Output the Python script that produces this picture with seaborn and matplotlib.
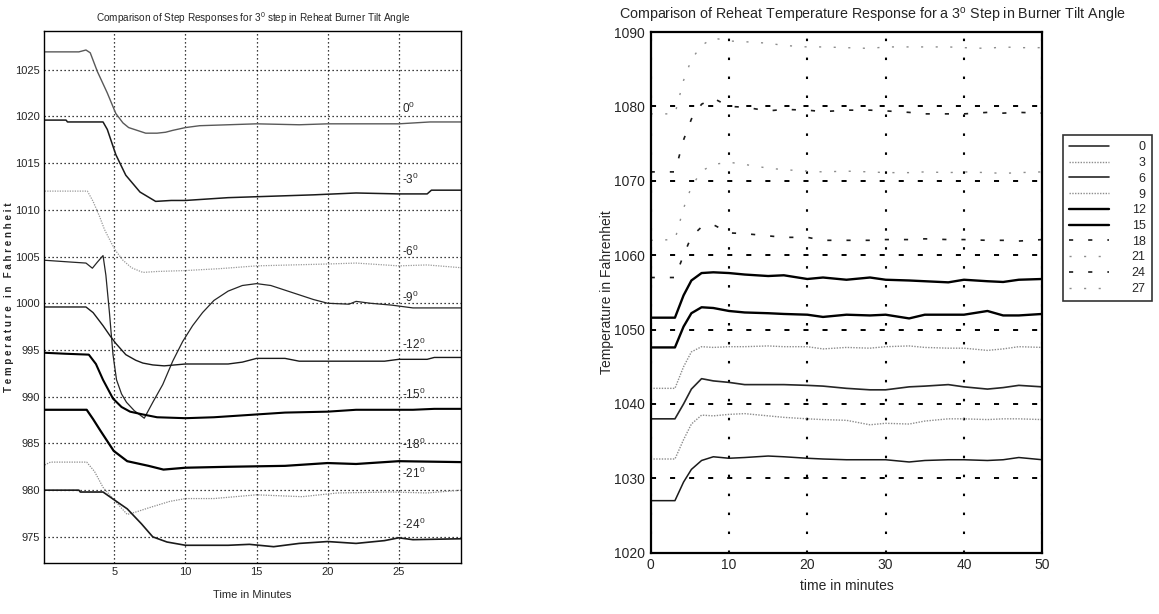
import matplotlib
matplotlib.use("Agg")
import seaborn as sns
from matplotlib import pyplot as plt

# ---------------- left panel: step responses, one curve per tilt angle
t_0 = [0.1, 2.5, 3.0, 3.3, 3.8, 4.5, 5.1, 5.6, 6.0, 6.6, 7.2, 8.0, 8.6, 9.1, 10.0, 11.0, 15.0, 18.0, 20.0, 25.0, 27.2, 29.4]
temp_0 = [1026.9, 1026.9, 1027.1, 1026.8, 1024.8, 1022.5, 1020.3, 1019.3, 1018.8, 1018.5, 1018.2, 1018.2, 1018.3, 1018.5, 1018.8, 1019.0, 1019.2, 1019.1, 1019.2, 1019.2, 1019.4, 1019.4]

t_m3 = [0.1, 1.6, 1.7, 4.2, 4.5, 5.1, 5.8, 6.8, 7.9, 9.0, 10.0, 13.0, 19.0, 22.0, 25.0, 27.0, 27.3, 29.4]
temp_m3 = [1019.6, 1019.6, 1019.4, 1019.4, 1018.6, 1015.9, 1013.7, 1011.9, 1010.9, 1011.0, 1011.0, 1011.3, 1011.6, 1011.8, 1011.7, 1011.7, 1012.1, 1012.1]

t_m6 = [0.1, 3.1, 3.5, 3.95, 4.3, 4.8, 5.1, 5.6, 6.2, 7.0, 8.0, 10.0, 12.4, 15.0, 20.0, 22.0, 25.0, 27.0, 29.4]
temp_m6 = [1012.0, 1012.0, 1010.9, 1009.3, 1007.9, 1006.4, 1005.6, 1004.6, 1003.8, 1003.3, 1003.4, 1003.5, 1003.7, 1004.0, 1004.2, 1004.3, 1004.0, 1004.1, 1003.8]

t_m9 = [0.1, 2.0, 3.0, 3.45, 3.8, 4.2, 4.4, 4.65, 4.9, 5.15, 5.5, 5.85, 6.4, 7.1, 7.7, 8.4, 9.1, 9.8, 10.5, 11.2,
        12.0, 13.0, 14.0, 15.0, 16.0, 17.0, 18.0, 19.0, 20.0, 21.5, 22.0, 23.0, 24.5, 26.0, 29.4]
temp_m9 = [1004.6, 1004.4, 1004.3, 1003.75, 1004.4, 1005.1, 1003.0, 999.0, 994.5, 991.8, 990.3, 989.4, 988.5, 987.7, 989.4, 991.3, 993.8, 995.9, 997.6, 999.0,
           1000.3, 1001.3, 1001.9, 1002.1, 1001.9, 1001.4, 1000.9, 1000.4, 1000.0, 999.9, 1000.2, 1000.0, 999.8, 999.5, 999.5]

t_m12 = [0.1, 3.0, 3.5, 4.2, 4.7, 5.1, 5.8, 6.5, 7.0, 7.7, 8.5, 10.0, 13.0, 14.0, 15.0, 17.0, 18.0, 24.0, 25.0, 27.0, 27.5, 29.4]
temp_m12 = [999.6, 999.6, 999.0, 997.6, 996.5, 995.7, 994.5, 993.9, 993.6, 993.4, 993.3, 993.5, 993.5, 993.7, 994.1, 994.1, 993.8, 993.8, 994.0, 994.0, 994.2, 994.2]

t_m15 = [0.1, 1.5, 3.2, 3.7, 4.2, 4.9, 5.5, 6.1, 7.0, 8.0, 10.0, 12.0, 14.0, 17.0, 20.0, 22.0, 26.0, 27.5, 29.4]
temp_m15 = [994.7, 994.6, 994.5, 993.5, 991.8, 989.8, 988.9, 988.4, 988.1, 987.8, 987.7, 987.8, 988.0, 988.3, 988.4, 988.6, 988.6, 988.7, 988.7]

t_m18 = [0.1, 3.05, 3.5, 4.0, 4.95, 5.9, 7.4, 8.45, 10.0, 13.0, 17.0, 20.0, 22.0, 25.0, 29.4]
temp_m18 = [988.6, 988.6, 987.6, 986.4, 984.2, 983.1, 982.6, 982.2, 982.4, 982.5, 982.6, 982.9, 982.8, 983.1, 983.0]

t_m21 = [0.1, 0.5, 3.05, 3.6, 4.2, 4.95, 5.9, 6.6, 7.4, 8.9, 10.0, 12.0, 15.0, 18.2, 20.7, 24.5, 27.0, 29.4]
temp_m21 = [982.7, 983.0, 983.0, 982.0, 980.3, 979.0, 977.4, 977.7, 978.1, 978.8, 979.1, 979.1, 979.5, 979.3, 979.7, 979.8, 979.7, 980.0]

t_m24 = [0.1, 2.5, 2.6, 4.2, 4.95, 5.9, 6.9, 7.7, 8.7, 10.0, 13.0, 14.5, 16.2, 18.0, 20.0, 22.0, 24.0, 25.0, 26.0, 29.4]
temp_m24 = [980.0, 980.0, 979.8, 979.8, 979.0, 978.0, 976.4, 975.0, 974.45, 974.1, 974.1, 974.2, 973.95, 974.3, 974.5, 974.3, 974.6, 974.9, 974.7, 974.8]

left_labels = ["0", "-3", "-6", "-9", "-12", "-15", "-18", "-21", "-24"]
left_label_y = [1020.8, 1013.3, 1005.6, 1000.6, 995.6, 990.2, 984.9, 981.8, 976.3]

# ---------------- right panel: reheat temperature, common time grid
t_r = [0, 3.1, 4.2, 5.2, 6.5, 8, 10, 12, 15, 17, 20, 22, 25, 28, 30, 33, 35, 38, 40, 43, 45, 47, 50]
rh_0 = [1027.0, 1027.0, 1029.5, 1031.2, 1032.4, 1032.9, 1032.7, 1032.8, 1033.0, 1032.9, 1032.7, 1032.6, 1032.5, 1032.5, 1032.5, 1032.2, 1032.4, 1032.5, 1032.5, 1032.4, 1032.5, 1032.8, 1032.5]
rh_3 = [1032.6, 1032.6, 1035.2, 1037.3, 1038.5, 1038.4, 1038.6, 1038.7, 1038.4, 1038.2, 1038.0, 1037.9, 1037.8, 1037.2, 1037.4, 1037.3, 1037.7, 1038.0, 1038.0, 1037.9, 1038.0, 1038.0, 1037.9]
rh_6 = [1038.0, 1038.0, 1040.0, 1042.0, 1043.4, 1043.1, 1042.9, 1042.6, 1042.6, 1042.6, 1042.5, 1042.4, 1042.1, 1041.9, 1041.9, 1042.3, 1042.4, 1042.6, 1042.3, 1042.0, 1042.2, 1042.5, 1042.3]
rh_9 = [1042.1, 1042.1, 1045.0, 1047.0, 1047.7, 1047.6, 1047.7, 1047.7, 1047.8, 1047.7, 1047.7, 1047.4, 1047.6, 1047.5, 1047.7, 1047.8, 1047.6, 1047.5, 1047.5, 1047.2, 1047.4, 1047.7, 1047.6]
rh_12 = [1047.6, 1047.6, 1050.4, 1052.2, 1053.0, 1052.9, 1052.5, 1052.3, 1052.2, 1052.1, 1052.0, 1051.7, 1052.0, 1051.9, 1052.0, 1051.5, 1052.0, 1052.0, 1052.0, 1052.5, 1051.9, 1051.9, 1052.1]
rh_15 = [1051.6, 1051.6, 1054.6, 1056.6, 1057.6, 1057.7, 1057.6, 1057.4, 1057.2, 1057.3, 1056.8, 1057.0, 1056.7, 1057.0, 1056.7, 1056.6, 1056.5, 1056.35, 1056.7, 1056.5, 1056.4, 1056.7, 1056.8]
rh_18 = [1057.0, 1057.0, 1060.0, 1062.5, 1063.8, 1064.1, 1063.0, 1062.9, 1062.6, 1062.4, 1062.4, 1062.0, 1062.0, 1062.0, 1062.1, 1062.1, 1062.2, 1062.1, 1062.1, 1062.0, 1062.0, 1061.9, 1062.1]
rh_21 = [1062.0, 1062.1, 1066.3, 1069.2, 1071.3, 1072.2, 1072.5, 1072.2, 1071.7, 1071.5, 1071.3, 1071.2, 1071.3, 1071.2, 1071.1, 1071.1, 1071.2, 1071.1, 1071.2, 1071.1, 1071.0, 1071.1, 1071.2]
rh_24 = [1071.2, 1071.2, 1075.5, 1078.3, 1080.3, 1081.1, 1080.0, 1079.9, 1079.4, 1079.6, 1079.5, 1079.3, 1079.5, 1079.5, 1079.4, 1079.2, 1079.0, 1079.0, 1079.0, 1079.2, 1079.1, 1079.2, 1079.1]
rh_27 = [1079.0, 1079.0, 1083.5, 1086.3, 1088.2, 1089.2, 1088.8, 1088.7, 1088.5, 1088.2, 1088.0, 1088.0, 1087.9, 1087.8, 1088.0, 1088.0, 1088.0, 1088.0, 1087.9, 1087.8, 1088.0, 1087.9, 1087.9]
right_labels = ["0", "3", "6", "9", "12", "15", "18", "21", "24", "27"]

sns.set_style("white")
plt.rcParams["font.family"] = ["Liberation Sans", "DejaVu Sans"]
plt.rcParams["mathtext.fontset"] = "custom"
plt.rcParams["mathtext.rm"] = "Liberation Sans"
plt.rcParams["mathtext.it"] = "Liberation Sans"

fig = plt.figure(figsize=(11.59, 6.14), dpi=100)
axl = fig.add_axes([0.038, 0.083, 0.360, 0.866])
axr = fig.add_axes([0.5614, 0.0998, 0.3379, 0.848])

# left curves
left_curves = [(t_0, temp_0), (t_m3, temp_m3), (t_m6, temp_m6), (t_m9, temp_m9), (t_m12, temp_m12),
               (t_m15, temp_m15), (t_m18, temp_m18), (t_m21, temp_m21), (t_m24, temp_m24)]
left_styles = [("0.35", 1.0, "-"), ("0.1", 1.1, "-"), ("0.6", 0.9, (0, (1, 1))), ("0.15", 0.9, "-"),
               ("0.1", 1.0, "-"), ("0.0", 1.5, "-"), ("0.0", 1.6, "-"), ("0.55", 0.9, (0, (1, 1))), ("0.1", 1.2, "-")]
for (t, v), (c, lw, ls) in zip(left_curves, left_styles):
    sns.lineplot(x=t, y=v, ax=axl, color=c, linewidth=lw, linestyle=ls)

for lab, yy in zip(left_labels, left_label_y):
    axl.text(25.2, yy, lab + "$^0$", fontsize=8.5, va="center", ha="left")

axl.set_xlim(0.05, 29.4)
axl.set_ylim(972.2, 1029.1)
axl.set_xticks([5, 10, 15, 20, 25])
axl.set_yticks([975, 980, 985, 990, 995, 1000, 1005, 1010, 1015, 1020, 1025])
axl.grid(True, color="k", linestyle=(0, (1, 2.2)), linewidth=0.9)
axl.set_axisbelow(True)
axl.tick_params(direction="in", length=3, labelsize=8, pad=3)
for s in axl.spines.values():
    s.set_color("k")
    s.set_linewidth(1.0)
axl.set_title("Comparison of Step Responses for 3$^0$ step in Reheat Burner Tilt Angle",
              fontsize=7.2, pad=7)
axl.set_xlabel("Time in Minutes", fontsize=8, labelpad=9)
axl.set_ylabel("T e m p e r a t u r e   i n   F a h r e n h e i t", fontsize=7, fontweight="bold", labelpad=1)

# right curves
right_curves = [rh_0, rh_3, rh_6, rh_9, rh_12, rh_15, rh_18, rh_21, rh_24, rh_27]
right_styles = [("0.1", 1.1, "-"), ("0.55", 1.0, (0, (1, 1))), ("0.15", 1.2, "-"), ("0.55", 1.0, (0, (1, 1))),
                ("0.0", 1.7, "-"), ("0.0", 1.7, "-"), ("0.1", 1.2, (0, (2.5, 9))), ("0.55", 1.0, (0, (1.5, 9))),
                ("0.1", 1.2, (0, (2.5, 9))), ("0.55", 1.0, (0, (1.5, 9)))]
for v, lab, (c, lw, ls) in zip(right_curves, right_labels, right_styles):
    sns.lineplot(x=t_r, y=v, ax=axr, color=c, linewidth=lw, linestyle=ls, label=lab.rjust(2, "\u2007"))

axr.set_xlim(0, 50)
axr.set_ylim(1020, 1090)
axr.set_xticks([0, 10, 20, 30, 40, 50])
axr.set_yticks(range(1020, 1091, 10))
axr.xaxis.grid(True, color="k", linestyle=(0, (1.2, 7.9)), linewidth=1.5)
axr.yaxis.grid(True, color="k", linestyle=(0, (2.6, 7.2)), linewidth=1.4)
axr.set_axisbelow(True)
axr.tick_params(direction="in", length=4, labelsize=10, pad=4)
for s in axr.spines.values():
    s.set_color("k")
    s.set_linewidth(1.6)
axr.set_title("Comparison of Reheat Temperature Response for a 3$^\\mathregular{o}$ Step in Burner Tilt Angle",
              fontsize=10.3, loc="left", x=-0.08, pad=9)
axr.set_xlabel("time in minutes", fontsize=10, labelpad=5)
axr.set_ylabel("Temperature in Fahrenheit", fontsize=10, labelpad=0)

leg = axr.legend(loc="upper left", bbox_to_anchor=(1063 / 1159, 1 - 135 / 614), bbox_transform=fig.transFigure,
                 frameon=True, fancybox=False, fontsize=9, labelspacing=0.3, handlelength=3.2,
                 handletextpad=1.8, borderpad=0.5, borderaxespad=0)
leg.get_frame().set_edgecolor("k")
leg.get_frame().set_linewidth(1.2)

fig.savefig("out.png", dpi=100)
